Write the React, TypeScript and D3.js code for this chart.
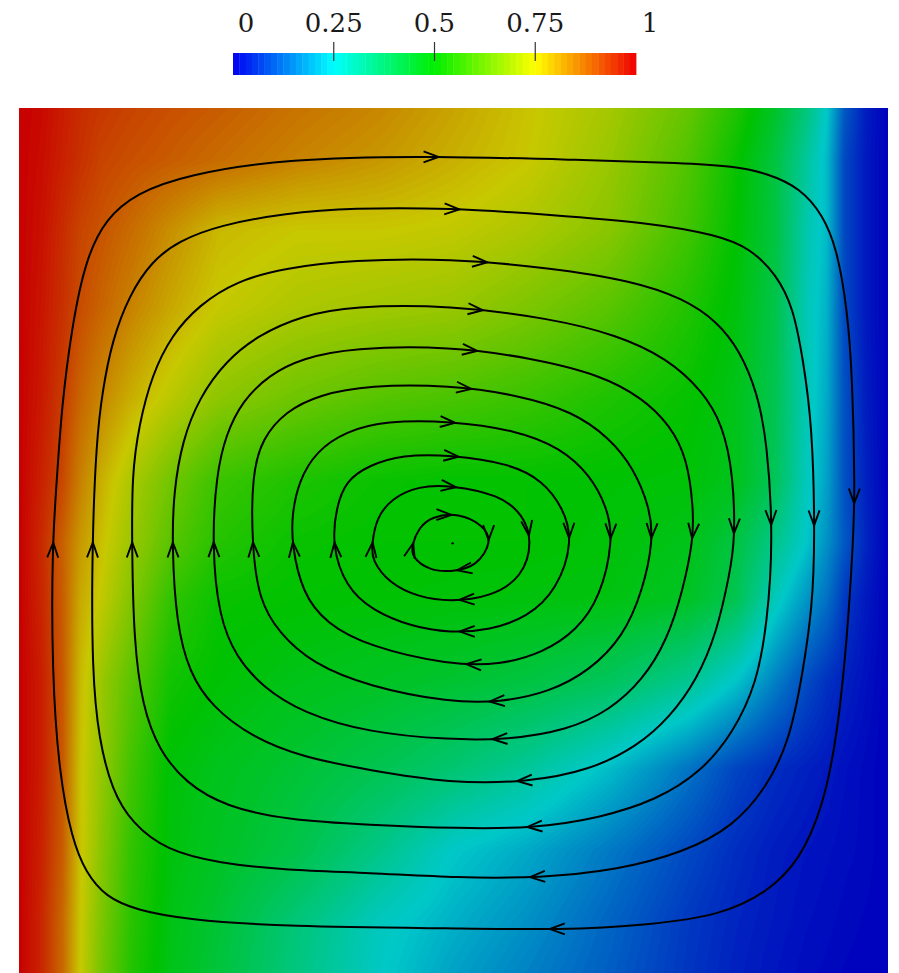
import React, { useEffect, useMemo, useRef } from 'react';
import * as d3 from 'd3';

const W = 899;
const H = 973;

// ---------- colour map ----------
const colorStops = [0, 0.25, 0.5, 0.75, 1];
const barColors = ['#0000f0', '#00ffff', '#00ee00', '#ffff00', '#f00000'];
const fieldColors = ['#0000be', '#00c8c8', '#00c200', '#c8c800', '#c80000'];
const tickValues = [0, 0.25, 0.5, 0.75, 1];
const tickLabels = ['0', '0.25', '0.5', '0.75', '1'];
const innerTicks = [0.25, 0.5, 0.75];

// ---------- temperature samples (x: 0 = hot wall .. 1 = cold wall, y: 1 = top .. 0 = bottom) ----------
const gridX = [0, 0.025, 0.05, 0.07, 0.095, 0.13, 0.175, 0.23, 0.32, 0.415, 0.5, 0.585, 0.68, 0.77, 0.825, 0.87, 0.905, 0.93, 0.95, 0.975, 1];
const gridY = [1, 0.94, 0.86, 0.77, 0.665, 0.57, 0.5, 0.435, 0.34, 0.24, 0.145, 0.065, 0];
const tRow100 = [1, 0.99, 0.965, 0.945, 0.93, 0.915, 0.9, 0.885, 0.855, 0.83, 0.795, 0.755, 0.705, 0.625, 0.54, 0.45, 0.35, 0.25, 0.11, 0.035, 0];
const tRow094 = [1, 0.985, 0.96, 0.94, 0.915, 0.9, 0.885, 0.865, 0.835, 0.81, 0.78, 0.75, 0.69, 0.6, 0.51, 0.42, 0.31, 0.23, 0.09, 0.03, 0];
const tRow086 = [1, 0.98, 0.945, 0.915, 0.895, 0.865, 0.82, 0.77, 0.75, 0.75, 0.74, 0.715, 0.67, 0.58, 0.5, 0.42, 0.29, 0.23, 0.09, 0.03, 0];
const tRow077 = [1, 0.975, 0.94, 0.905, 0.875, 0.835, 0.79, 0.745, 0.715, 0.7, 0.69, 0.655, 0.61, 0.54, 0.485, 0.41, 0.28, 0.22, 0.09, 0.03, 0];
const tRow066 = [1, 0.97, 0.925, 0.875, 0.83, 0.78, 0.73, 0.675, 0.635, 0.605, 0.59, 0.57, 0.535, 0.505, 0.47, 0.4, 0.28, 0.21, 0.1, 0.035, 0];
const tRow057 = [1, 0.96, 0.91, 0.84, 0.78, 0.71, 0.64, 0.57, 0.535, 0.51, 0.5, 0.5, 0.495, 0.49, 0.465, 0.39, 0.27, 0.2, 0.1, 0.04, 0];
const tRow050 = [1, 0.95, 0.88, 0.81, 0.76, 0.69, 0.61, 0.545, 0.51, 0.5, 0.5, 0.5, 0.49, 0.47, 0.42, 0.33, 0.25, 0.18, 0.11, 0.045, 0];
const tRow044 = [1, 0.955, 0.885, 0.79, 0.74, 0.66, 0.56, 0.51, 0.5, 0.495, 0.49, 0.485, 0.48, 0.455, 0.4, 0.27, 0.19, 0.14, 0.07, 0.03, 0];
const tRow034 = [1, 0.965, 0.89, 0.77, 0.69, 0.61, 0.52, 0.495, 0.47, 0.455, 0.44, 0.42, 0.385, 0.32, 0.245, 0.16, 0.095, 0.06, 0.04, 0.02, 0];
const tRow024 = [1, 0.965, 0.89, 0.76, 0.685, 0.58, 0.49, 0.465, 0.435, 0.4, 0.36, 0.31, 0.235, 0.145, 0.085, 0.055, 0.04, 0.03, 0.02, 0.01, 0];
const tRow015 = [1, 0.96, 0.885, 0.76, 0.67, 0.56, 0.485, 0.455, 0.41, 0.33, 0.25, 0.21, 0.15, 0.09, 0.055, 0.035, 0.025, 0.02, 0.015, 0.01, 0];
const tRow007 = [1, 0.955, 0.87, 0.755, 0.655, 0.55, 0.475, 0.435, 0.35, 0.265, 0.22, 0.18, 0.125, 0.07, 0.045, 0.03, 0.02, 0.015, 0.01, 0.005, 0];
const tRow000 = [1, 0.955, 0.87, 0.75, 0.645, 0.54, 0.47, 0.425, 0.34, 0.255, 0.2, 0.16, 0.115, 0.065, 0.04, 0.025, 0.015, 0.01, 0.005, 0.002, 0];
const temperatureRows = [tRow100, tRow094, tRow086, tRow077, tRow066, tRow057, tRow050, tRow044, tRow034, tRow024, tRow015, tRow007, tRow000];

// ---------- streamlines (closed, clockwise on screen) ----------
const stream1 = [[0.038, 0.497], [0.044, 0.578], [0.049, 0.655], [0.061, 0.75], [0.077, 0.827], [0.1, 0.873], [0.135, 0.902], [0.192, 0.923], [0.307, 0.942], [0.48, 0.945], [0.649, 0.94], [0.764, 0.937], [0.822, 0.933], [0.861, 0.925], [0.899, 0.908], [0.925, 0.877], [0.941, 0.839], [0.953, 0.77], [0.959, 0.693], [0.962, 0.559], [0.96, 0.503], [0.953, 0.388], [0.941, 0.273], [0.925, 0.196], [0.899, 0.135], [0.861, 0.097], [0.807, 0.071], [0.726, 0.06], [0.623, 0.054], [0.503, 0.056], [0.307, 0.058], [0.192, 0.066], [0.135, 0.077], [0.1, 0.092], [0.077, 0.12], [0.061, 0.158], [0.046, 0.235], [0.038, 0.35]];
const stream2 = [[0.084, 0.497], [0.089, 0.617], [0.096, 0.674], [0.107, 0.732], [0.127, 0.785], [0.153, 0.824], [0.184, 0.847], [0.23, 0.865], [0.307, 0.879], [0.383, 0.885], [0.496, 0.885], [0.611, 0.877], [0.726, 0.868], [0.803, 0.854], [0.841, 0.839], [0.872, 0.808], [0.891, 0.77], [0.902, 0.712], [0.913, 0.635], [0.916, 0.503], [0.913, 0.426], [0.902, 0.35], [0.887, 0.273], [0.861, 0.219], [0.822, 0.173], [0.764, 0.143], [0.688, 0.123], [0.6, 0.114], [0.506, 0.114], [0.403, 0.12], [0.307, 0.123], [0.23, 0.131], [0.169, 0.146], [0.13, 0.177], [0.107, 0.215], [0.092, 0.273], [0.084, 0.35]];
const stream3 = [[0.13, 0.497], [0.13, 0.578], [0.138, 0.635], [0.153, 0.693], [0.176, 0.739], [0.207, 0.773], [0.25, 0.801], [0.307, 0.816], [0.383, 0.825], [0.496, 0.827], [0.611, 0.816], [0.707, 0.801], [0.764, 0.781], [0.803, 0.755], [0.83, 0.72], [0.849, 0.674], [0.861, 0.617], [0.868, 0.503], [0.861, 0.407], [0.849, 0.338], [0.822, 0.281], [0.784, 0.235], [0.734, 0.204], [0.669, 0.183], [0.591, 0.171], [0.506, 0.171], [0.403, 0.175], [0.307, 0.181], [0.238, 0.196], [0.192, 0.223], [0.161, 0.261], [0.142, 0.311], [0.132, 0.388]];
const stream4 = [[0.176, 0.497], [0.178, 0.559], [0.188, 0.617], [0.207, 0.666], [0.238, 0.709], [0.276, 0.739], [0.326, 0.761], [0.383, 0.772], [0.496, 0.773], [0.611, 0.758], [0.688, 0.739], [0.746, 0.712], [0.787, 0.674], [0.81, 0.635], [0.822, 0.578], [0.824, 0.503], [0.818, 0.465], [0.803, 0.396], [0.78, 0.342], [0.749, 0.299], [0.711, 0.265], [0.657, 0.238], [0.585, 0.224], [0.496, 0.223], [0.403, 0.238], [0.326, 0.253], [0.268, 0.276], [0.222, 0.311], [0.196, 0.35], [0.181, 0.407]];
const stream5 = [[0.222, 0.497], [0.227, 0.578], [0.238, 0.624], [0.257, 0.663], [0.288, 0.693], [0.326, 0.712], [0.383, 0.724], [0.496, 0.726], [0.591, 0.712], [0.669, 0.693], [0.718, 0.666], [0.749, 0.635], [0.769, 0.597], [0.776, 0.54], [0.776, 0.503], [0.764, 0.445], [0.746, 0.388], [0.718, 0.342], [0.68, 0.307], [0.631, 0.284], [0.562, 0.273], [0.496, 0.273], [0.403, 0.281], [0.326, 0.304], [0.28, 0.334], [0.25, 0.368], [0.23, 0.414]];
const stream6 = [[0.268, 0.497], [0.268, 0.578], [0.28, 0.62], [0.307, 0.651], [0.345, 0.67], [0.403, 0.681], [0.496, 0.681], [0.573, 0.67], [0.637, 0.651], [0.68, 0.62], [0.707, 0.586], [0.726, 0.54], [0.73, 0.503], [0.718, 0.445], [0.695, 0.391], [0.657, 0.353], [0.611, 0.328], [0.553, 0.316], [0.496, 0.316], [0.403, 0.334], [0.337, 0.361], [0.299, 0.396], [0.276, 0.434]];
const stream7 = [[0.314, 0.497], [0.314, 0.532], [0.322, 0.571], [0.342, 0.605], [0.376, 0.628], [0.422, 0.64], [0.496, 0.64], [0.573, 0.629], [0.623, 0.609], [0.657, 0.578], [0.677, 0.54], [0.684, 0.503], [0.669, 0.437], [0.642, 0.399], [0.603, 0.373], [0.553, 0.359], [0.496, 0.359], [0.403, 0.38], [0.353, 0.407], [0.326, 0.442]];
const stream8 = [[0.36, 0.497], [0.365, 0.54], [0.376, 0.571], [0.403, 0.589], [0.441, 0.601], [0.496, 0.601], [0.565, 0.591], [0.603, 0.571], [0.626, 0.54], [0.638, 0.502], [0.619, 0.445], [0.585, 0.414], [0.542, 0.399], [0.496, 0.396], [0.452, 0.403], [0.406, 0.422], [0.376, 0.449]];
const stream9 = [[0.406, 0.497], [0.411, 0.528], [0.429, 0.551], [0.46, 0.565], [0.496, 0.566], [0.553, 0.555], [0.58, 0.532], [0.591, 0.502], [0.58, 0.46], [0.542, 0.437], [0.496, 0.432], [0.46, 0.437], [0.426, 0.453], [0.406, 0.48]];
const stream10 = [[0.452, 0.497], [0.46, 0.517], [0.475, 0.53], [0.506, 0.534], [0.534, 0.52], [0.545, 0.502], [0.527, 0.472], [0.496, 0.466], [0.472, 0.468], [0.452, 0.483]];
const streamlines = [stream1, stream2, stream3, stream4, stream5, stream6, stream7, stream8, stream9, stream10];
const vortexCentre = [0.499, 0.499];

// arrow tip locations, one list per side (same order as the streamlines)
const arrowsLeft = [[0.038, 0.5], [0.084, 0.5], [0.13, 0.5], [0.176, 0.5], [0.222, 0.5], [0.268, 0.5], [0.314, 0.5], [0.36, 0.5], [0.406, 0.5], [0.452, 0.5]];
const arrowsTop = [[0.483, 0.945], [0.507, 0.885], [0.539, 0.826], [0.534, 0.772], [0.528, 0.725], [0.521, 0.68], [0.502, 0.64], [0.506, 0.601], [0.503, 0.566], [0.498, 0.534]];
const arrowsRight = [[0.962, 0.545], [0.916, 0.52], [0.868, 0.52], [0.824, 0.51], [0.776, 0.505], [0.73, 0.505], [0.684, 0.505], [0.638, 0.505], [0.591, 0.509], [0.545, 0.503]];
const arrowsBottom = [[0.611, 0.054], [0.588, 0.114], [0.585, 0.171], [0.573, 0.224], [0.545, 0.273], [0.542, 0.316], [0.515, 0.359], [0.507, 0.396], [0.507, 0.432], [0.504, 0.466]];

const LEVELS = 160;

// ---------- scales ----------
const xs = d3.scaleLinear().domain([0, 1]).range([19, 888]);
const ys = d3.scaleLinear().domain([0, 1]).range([977, 108]);
const cbX = d3.scaleLinear().domain([0, 1]).range([233, 636]);
const barColor = d3.scaleLinear<string>().domain(colorStops).range(barColors).clamp(true);
const fieldColor = d3.scaleLinear<string>().domain(colorStops).range(fieldColors).clamp(true);

function sampleT(x: number, y: number): number {
  let i = 0;
  while (i < gridX.length - 2 && x > gridX[i + 1]) i++;
  const tx = (x - gridX[i]) / (gridX[i + 1] - gridX[i]);
  let j = 0;
  while (j < gridY.length - 2 && y < gridY[j + 1]) j++;
  const ty = (gridY[j] - y) / (gridY[j] - gridY[j + 1]);
  const r0 = temperatureRows[j];
  const r1 = temperatureRows[j + 1];
  const a = r0[i] * (1 - tx) + r0[i + 1] * tx;
  const b = r1[i] * (1 - tx) + r1[i + 1] * tx;
  return a * (1 - ty) + b * ty;
}

export default function App() {
  const pathRefs = useRef<(SVGPathElement | null)[]>([]);
  const arrowRef = useRef<SVGGElement | null>(null);

  const bands = useMemo(() => {
    const n = 290;
    const vals: number[] = new Array(n * n);
    for (let j = 0; j < n; j++) {
      const Y = 1 - (j + 0.5) / n;
      for (let i = 0; i < n; i++) {
        const X = (i + 0.5) / n;
        vals[j * n + i] = sampleT(X, Y);
      }
    }
    const thr = d3.range(0, 1, 1 / LEVELS);
    const contours = d3.contours().size([n, n]).thresholds(thr)(vals);
    const gx = d3.scaleLinear().domain([0, n]).range([xs(0), xs(1)]);
    const gy = d3.scaleLinear().domain([0, n]).range([ys(1), ys(0)]);
    const proj = d3.geoTransform({
      point: function (this: any, x: number, y: number) {
        this.stream.point(gx(x), gy(y));
      },
    });
    const gp = d3.geoPath(proj);
    return contours.map((c) => ({ d: gp(c as any) || '', fill: fieldColor(Math.min(1, c.value + 0.5 / LEVELS)) }));
  }, []);

  const line = d3
    .line<number[]>()
    .x((d) => xs(d[0]))
    .y((d) => ys(d[1]))
    .curve(d3.curveBasisClosed);

  useEffect(() => {
    const g = d3.select(arrowRef.current);
    g.selectAll('*').remove();
    streamlines.forEach((_, k) => {
      const p = pathRefs.current[k];
      if (!p) return;
      const total = p.getTotalLength();
      const samples: { x: number; y: number; l: number }[] = [];
      for (let l = 0; l < total; l += 0.75) {
        const pt = p.getPointAtLength(l);
        samples.push({ x: pt.x, y: pt.y, l });
      }
      const tips = [arrowsLeft[k], arrowsTop[k], arrowsRight[k], arrowsBottom[k]];
      tips.forEach((tip) => {
        const tx = xs(tip[0]);
        const ty = ys(tip[1]);
        let best = samples[0];
        let bd = Infinity;
        for (const s of samples) {
          const dd = (s.x - tx) ** 2 + (s.y - ty) ** 2;
          if (dd < bd) {
            bd = dd;
            best = s;
          }
        }
        const a = p.getPointAtLength((best.l - 3 + total) % total);
        const b = p.getPointAtLength((best.l + 3) % total);
        let dx = b.x - a.x;
        let dy = b.y - a.y;
        const len = Math.hypot(dx, dy) || 1;
        dx /= len;
        dy /= len;
        const nx = -dy;
        const ny = dx;
        const L = 15;
        const Wd = 5.5;
        const w1 = [best.x - L * dx + Wd * nx, best.y - L * dy + Wd * ny];
        const w2 = [best.x - L * dx - Wd * nx, best.y - L * dy - Wd * ny];
        g.append('path')
          .attr('d', `M${w1[0]},${w1[1]}L${best.x},${best.y}L${w2[0]},${w2[1]}`)
          .attr('fill', 'none')
          .attr('stroke', '#000')
          .attr('stroke-width', 1.9)
          .attr('stroke-linejoin', 'miter');
      });
    });
  }, []);

  const N = 64;
  const cells = d3.range(N);

  return (
    <svg
      width={W}
      height={H}
      style={{ position: 'absolute', left: 0, top: 0, display: 'block', background: '#fff' }}
    >
      <rect x={0} y={0} width={W} height={H} fill="#fff" />
      {/* colour bar */}
      <g>
        {cells.map((i) => (
          <rect
            key={i}
            x={cbX(i / N)}
            y={53}
            width={cbX((i + 1) / N) - cbX(i / N) + 0.4}
            height={22}
            fill={barColor((i + 0.5) / N)}
          />
        ))}
        {innerTicks.map((t) => (
          <line key={t} x1={cbX(t)} x2={cbX(t)} y1={42} y2={61} stroke="#333" strokeWidth={1.2} />
        ))}
        {tickValues.map((t, i) => (
          <text
            key={t}
            x={cbX(t) + (i === 0 ? 13 : i === tickValues.length - 1 ? 14 : 0)}
            y={32}
            textAnchor="middle"
            fontFamily="DejaVu Serif"
            fontSize={26}
            fill="#1a1a1a"
          >
            {tickLabels[i]}
          </text>
        ))}
      </g>
      {/* temperature field */}
      <g>
        <rect x={xs(0)} y={ys(1)} width={xs(1) - xs(0)} height={ys(0) - ys(1)} fill={fieldColor(0)} />
        {bands.map((b, i) => (
          <path key={i} d={b.d} fill={b.fill} stroke="none" />
        ))}
      </g>
      {/* streamlines */}
      <g fill="none" stroke="#000" strokeWidth={2}>
        {streamlines.map((s, k) => (
          <path
            key={k}
            ref={(el) => {
              pathRefs.current[k] = el;
            }}
            d={line(s) || ''}
          />
        ))}
      </g>
      <g ref={arrowRef} />
      <circle cx={xs(vortexCentre[0])} cy={ys(vortexCentre[1])} r={1.2} fill="#000" />
    </svg>
  );
}
